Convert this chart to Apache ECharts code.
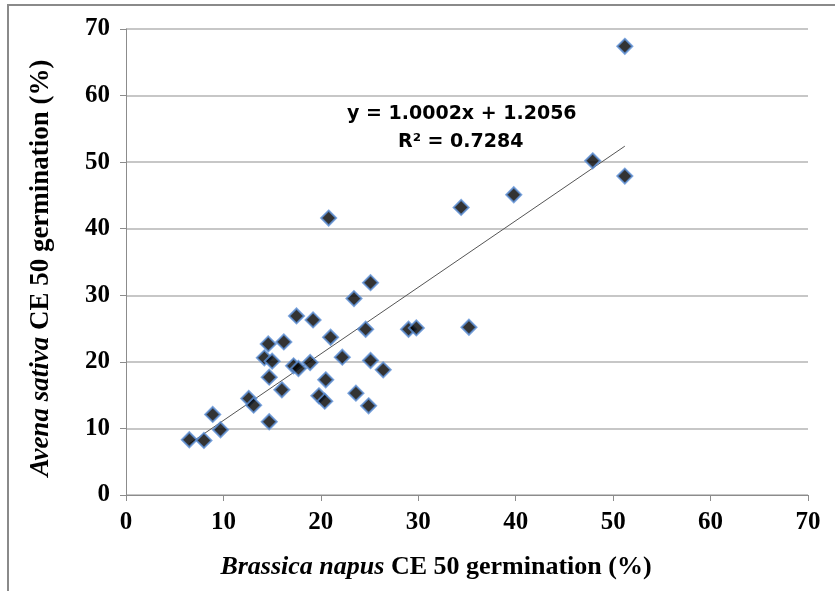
<!DOCTYPE html>
<html>
<head>
<meta charset="utf-8">
<script src="https://cdn.jsdelivr.net/npm/echarts@6/dist/echarts.min.js"></script>
<style>
  html, body { margin: 0; padding: 0; background: #fff; }
  #chart { width: 835px; height: 591px; }
</style>
</head>
<body>
<div id="chart"></div>
<script>
// Brassica napus CE50 (x) vs Avena sativa CE50 (y)
var brassica = [6.5, 8.0, 8.9, 9.7, 12.6, 13.1, 14.2, 14.6, 15.0, 14.7, 14.7, 16.0, 16.2, 17.2, 17.5, 17.7,
  19.2, 18.9, 19.8, 20.4, 20.5, 20.8, 21.0, 22.2, 23.4, 23.6, 24.9, 24.6, 25.1, 25.1, 26.4,
  29.0, 29.8, 34.4, 35.2, 39.8, 47.9, 51.2, 51.2];
var avena = [8.3, 8.2, 12.1, 9.8, 14.5, 13.5, 20.6, 22.7, 20.1, 17.7, 11.0, 15.8, 23.0, 19.4, 26.9, 19.0,
  26.3, 19.9, 14.9, 14.1, 17.3, 41.6, 23.7, 20.7, 29.5, 15.3, 13.4, 24.9, 31.9, 20.2, 18.8,
  24.9, 25.1, 43.2, 25.2, 45.1, 50.2, 47.9, 67.4];

// linear trend line end points
var trendX = [6.5, 51.2];
var trendY = [7.7, 52.4];
var equationText = ['y = 1.0002x + 1.2056', 'R\u00B2 = 0.7284'];

var axisTicks = [0, 10, 20, 30, 40, 50, 60, 70];

var chart = echarts.init(document.getElementById('chart'));

var points = brassica.map(function (x, i) { return [x, avena[i]]; });
var trend = trendX.map(function (x, i) { return [x, trendY[i]]; });

var serif = '"Liberation Serif", "Times New Roman", serif';

var option = {
  animation: false,
  backgroundColor: '#fff',
  grid: { left: 126, right: 27, top: 29, bottom: 96 },
  xAxis: {
    type: 'value',
    min: axisTicks[0],
    max: axisTicks[axisTicks.length - 1],
    interval: 10,
    name: '{i|Brassica napus} CE 50 germination (%)',
    nameLocation: 'middle',
    nameGap: 59,
    nameTextStyle: {
      fontFamily: serif, fontSize: 26, fontWeight: 'bold', color: '#000',
      padding: [0, 62, 0, 0],
      rich: { i: { fontFamily: serif, fontSize: 26, fontWeight: 'bold', fontStyle: 'italic', color: '#000' } }
    },
    axisLine: { show: true, onZero: false, lineStyle: { color: '#8c8c8c', width: 1 } },
    axisTick: { show: true, inside: false, length: 6, lineStyle: { color: '#8c8c8c' } },
    splitLine: { show: false },
    axisLabel: { fontFamily: serif, fontSize: 25, fontWeight: 'bold', color: '#000', margin: 15 }
  },
  yAxis: {
    type: 'value',
    min: axisTicks[0],
    max: axisTicks[axisTicks.length - 1],
    interval: 10,
    name: '{i|Avena sativa} CE 50 germination (%)',
    nameLocation: 'middle',
    nameGap: 71,
    nameTextStyle: {
      fontFamily: serif, fontSize: 27, fontWeight: 'bold', color: '#000',
      padding: [0, 12, 0, 0],
      rich: { i: { fontFamily: serif, fontSize: 27, fontWeight: 'bold', fontStyle: 'italic', color: '#000' } }
    },
    axisLine: { show: true, onZero: false, lineStyle: { color: '#8c8c8c', width: 1 } },
    axisTick: { show: true, inside: false, length: 6, lineStyle: { color: '#8c8c8c' } },
    splitLine: { show: true, lineStyle: { color: '#b4b4b4', width: 1.5 } },
    axisLabel: { fontFamily: serif, fontSize: 25, fontWeight: 'bold', color: '#000', margin: 16 }
  },
  graphic: [
    {
      type: 'rect', silent: true, z: 100,
      shape: { x: 8, y: 5, width: 840, height: 600 },
      style: { fill: 'none', stroke: '#8a8a8a', lineWidth: 2 }
    },
    {
      type: 'text', left: 347, top: 105, z: 100,
      style: { text: equationText[0], font: 'bold 19px "DejaVu Sans", sans-serif', fill: '#000' }
    },
    {
      type: 'text', left: 398, top: 133, z: 100,
      style: { text: equationText[1], font: 'bold 19px "DejaVu Sans", sans-serif', fill: '#000' }
    }
  ],
  series: [
    {
      type: 'line',
      data: trend,
      symbol: 'none',
      lineStyle: { color: '#555', width: 1 },
      z: 3
    },
    {
      type: 'scatter',
      data: points,
      symbol: 'diamond',
      symbolSize: 15,
      itemStyle: { color: '#000', borderColor: '#5b8fd6', borderWidth: 2 },
      z: 4
    }
  ]
};

chart.setOption(option);
window.addEventListener('resize', function () { chart.resize(); });
</script>
</body>
</html>
